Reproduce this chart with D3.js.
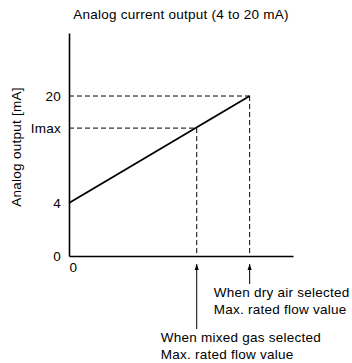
<!DOCTYPE html>
<html>
<head>
<meta charset="utf-8">
<script src="https://cdn.jsdelivr.net/npm/d3@7"></script>
<style>
  body { margin: 0; background: #fff; }
  svg text { font-family: "Liberation Sans", Arial, sans-serif; fill: #000; font-size: 13.5px; letter-spacing: 0.25px; }
</style>
</head>
<body>
<div id="chart"></div>
<script>
// y values in mA (the axis is not linear: 0..4 is compressed)
var yTicks = [0, 4, 15.2, 20];
var yTickLabels = ["0", "4", "Imax", "20"];
var yTop = 29.4;
// x values: flow as % of dry air max rated flow
var xTicks = [0];
var xEnd = 124;
var lineX = [0, 100];
var lineY = [4, 20];
var markers = [
  {x: 70.7, y: 15.2, lines: ["When mixed gas selected", "Max. rated flow value"], len: 65},
  {x: 100, y: 20, lines: ["When dry air selected", "Max. rated flow value"], len: 20}
];

var svg = d3.select("#chart").append("svg").attr("width", 352).attr("height", 363);

var x = d3.scaleLinear().domain([0, xEnd]).range([69, 293]);
var y = d3.scaleLinear().domain([0, 4, 20, yTop]).range([256, 203, 96, 33]);

svg.append("defs").append("marker")
    .attr("id", "arr")
    .attr("viewBox", "0 0 10 10")
    .attr("refX", 10).attr("refY", 5)
    .attr("markerWidth", 6).attr("markerHeight", 7)
    .attr("markerUnits", "userSpaceOnUse")
    .attr("orient", "auto")
  .append("path").attr("d", "M0,1.5 L10,5 L0,8.5 Z").attr("fill", "#000");

svg.append("text")
    .attr("x", 181).attr("y", 19)
    .attr("text-anchor", "middle")
    .text("Analog current output (4 to 20 mA)");

svg.append("text")
    .attr("transform", "translate(21,147) rotate(-90)")
    .attr("text-anchor", "middle")
    .text("Analog output [mA]");

// dashed guides
markers.forEach(function(m) {
  svg.append("line")
      .attr("x1", x(0)).attr("x2", x(m.x))
      .attr("y1", y(m.y)).attr("y2", y(m.y))
      .attr("stroke", "#000").attr("stroke-width", 1)
      .attr("stroke-dasharray", "5,3");
  svg.append("line")
      .attr("x1", x(m.x)).attr("x2", x(m.x))
      .attr("y1", y(m.y)).attr("y2", y(0))
      .attr("stroke", "#000").attr("stroke-width", 1)
      .attr("stroke-dasharray", "5,3");
});

var line = d3.line().x(function(d) { return x(d[0]); }).y(function(d) { return y(d[1]); });
svg.append("path")
    .datum(d3.zip(lineX, lineY))
    .attr("d", line)
    .attr("fill", "none").attr("stroke", "#000").attr("stroke-width", 1.8);

var yAxis = svg.append("g")
    .attr("transform", "translate(" + x(0) + ",0)")
    .call(d3.axisLeft(y).tickValues(yTicks).tickSize(0).tickPadding(8)
      .tickFormat(function(d, i) { return yTickLabels[i]; }));
yAxis.select(".domain").attr("stroke-width", 1.6);
yAxis.selectAll("text").attr("font-size", null).attr("font-family", null);
yAxis.attr("font-size", null).attr("font-family", null);

var xAxis = svg.append("g")
    .attr("transform", "translate(0," + y(0) + ")")
    .call(d3.axisBottom(x).tickValues(xTicks).tickSize(0).tickPadding(6));
xAxis.select(".domain").attr("stroke-width", 1.6);
xAxis.selectAll("text").attr("dx", 4);
xAxis.attr("font-size", null).attr("font-family", null);

// arrows and notes
markers.forEach(function(m) {
  var top = y(0) + 8;
  svg.append("line")
      .attr("x1", x(m.x)).attr("x2", x(m.x))
      .attr("y1", top + m.len).attr("y2", top)
      .attr("stroke", "#000").attr("stroke-width", 1)
      .attr("marker-end", "url(#arr)");
  svg.selectAll(null).data(m.lines).enter().append("text")
      .attr("x", x(m.x) - 36)
      .attr("y", function(d, i) { return top + m.len + 13 + i * 17; })
      .text(function(d) { return d; });
});
</script>
</body>
</html>
